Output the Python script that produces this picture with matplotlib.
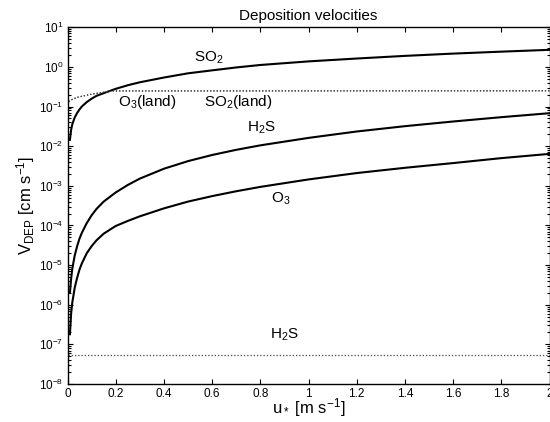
import matplotlib
matplotlib.use("Agg")
import matplotlib.pyplot as plt
import matplotlib.ticker as mticker
import numpy as np

plt.rcParams['font.family'] = ['Liberation Sans', 'DejaVu Sans']
plt.rcParams['mathtext.fontset'] = 'custom'
plt.rcParams['mathtext.rm'] = 'Liberation Sans'
plt.rcParams['mathtext.it'] = 'Liberation Sans:italic'
plt.rcParams['mathtext.bf'] = 'Liberation Sans:bold'

# ---------------------------------------------------------------- data ---- #
# friction velocity u* [m/s] for the solid curves
u_star = [0.01, 0.015, 0.02, 0.03, 0.04, 0.05, 0.06, 0.08, 0.1, 0.12, 0.15,
          0.2, 0.25, 0.3, 0.4, 0.5, 0.6, 0.7, 0.8, 1.0, 1.2, 1.4, 1.6, 1.8, 2.0]

# deposition velocities [cm/s] (sea)
v_so2 = [0.0145, 0.026, 0.036, 0.053, 0.069, 0.085, 0.101, 0.130, 0.158,
         0.186, 0.218, 0.280, 0.345, 0.410, 0.540, 0.690, 0.820, 0.970,
         1.12, 1.38, 1.63, 1.90, 2.17, 2.43, 2.70]
v_h2s = [2.0e-6, 4.5e-6, 8.2e-6, 1.75e-5, 3.0e-5, 4.7e-5, 6.6e-5, 1.15e-4,
         1.8e-4, 2.6e-4, 4.0e-4, 6.8e-4, 1.05e-3, 1.52e-3, 2.7e-3, 4.2e-3,
         6.0e-3, 8.1e-3, 1.05e-2, 1.62e-2, 2.35e-2, 3.2e-2, 4.2e-2, 5.4e-2,
         6.8e-2]
v_o3 = [1.8e-7, 6.0e-7, 1.15e-6, 2.7e-6, 4.8e-6, 7.8e-6, 1.12e-5, 2.0e-5,
        3.0e-5, 4.2e-5, 6.2e-5, 9.7e-5, 1.3e-4, 1.7e-4, 2.7e-4, 4.0e-4,
        5.5e-4, 7.3e-4, 9.4e-4, 1.45e-3, 2.1e-3, 2.85e-3, 3.75e-3, 5.0e-3,
        6.4e-3]

# land values (dotted)
u_land = [0.005, 0.01, 0.02, 0.04, 0.06, 0.1, 0.13, 0.16, 0.19, 2.0]
v_o3_land = [0.134, 0.14, 0.152, 0.17, 0.182, 0.205, 0.22, 0.235, 0.248, 0.25]
v_so2_land = [0.134, 0.14, 0.152, 0.17, 0.182, 0.205, 0.22, 0.235, 0.248, 0.25]
u_h2s_land = [0.0, 2.0]
v_h2s_land = [5.5e-8, 5.5e-8]

x_ticks = [0, 0.2, 0.4, 0.6, 0.8, 1.0, 1.2, 1.4, 1.6, 1.8, 2.0]
x_ticklabels = ['0', '0.2', '0.4', '0.6', '0.8', '1', '1.2', '1.4', '1.6', '1.8', '2']

# ---------------------------------------------------------------- plot ---- #
fig = plt.figure(figsize=(5.5, 4.22), dpi=100)
ax = fig.add_axes([67.5/550, 38/422, 482/550, 356.7/422])

ax.plot(u_star, v_so2, c='k', lw=1.5)
ax.plot(u_star, v_h2s, c='k', lw=1.5)
ax.plot(u_star, v_o3, c='k', lw=1.5)
dots = (0, (1, 1.6))
ax.plot(u_land, v_o3_land, c='0.25', lw=0.9, ls=dots)
ax.plot(u_land, v_so2_land, c='0.25', lw=0.9, ls=dots)
ax.plot(u_h2s_land, v_h2s_land, c='0.25', lw=0.9, ls=dots)

ax.set_yscale('log')
ax.set_xlim(0, 2)
ax.set_ylim(1e-8, 1e1)
ax.set_xticks(x_ticks)
ax.set_xticklabels(x_ticklabels)
ax.yaxis.set_major_locator(mticker.LogLocator(base=10, numticks=20))
ax.yaxis.set_minor_locator(mticker.LogLocator(base=10, subs=np.arange(2, 10), numticks=20))
ax.yaxis.set_minor_formatter(mticker.NullFormatter())

ax.tick_params(which='both', direction='in', top=True, right=True,
               labelsize=8.5, width=0.8, pad=3)
ax.tick_params(which='major', length=3.6)
ax.tick_params(which='minor', length=2.0)
for sp in ax.spines.values():
    sp.set_linewidth(1.0)

# curve labels
fs = 11
ax.text(0.585, 1.36, 'SO$_2$', ha='center', va='baseline', fontsize=fs)
ax.text(0.329, 0.101, 'O$_3$(land)', ha='center', va='baseline', fontsize=fs)
ax.text(0.71, 0.101, 'SO$_2$(land)', ha='center', va='baseline', fontsize=fs)
ax.text(0.806, 0.0234, 'H$_2$S', ha='center', va='baseline', fontsize=fs)
ax.text(0.883, 3.7e-4, 'O$_3$', ha='center', va='baseline', fontsize=fs)
ax.text(0.902, 1.38e-7, 'H$_2$S', ha='center', va='baseline', fontsize=fs)

ax.set_title('Deposition velocities', fontsize=11, pad=5)
ax.set_xlabel('u$_*$ [m s$^{-1}$]', fontsize=12)
ax.xaxis.set_label_coords(0.5, -0.033)
ax.set_ylabel('V$_\\mathrm{DEP}$ [cm s$^{-1}$]', fontsize=12)
ax.yaxis.set_label_coords(-0.064, 0.5)

fig.savefig('out.png', dpi=100)
